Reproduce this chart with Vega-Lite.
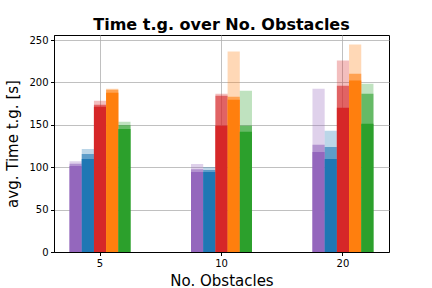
{
  "$schema": "https://vega.github.io/schema/vega-lite/v6.json",
  "autosize": {"type": "none"},
  "width": 335,
  "height": 217,
  "padding": {"left": 54, "top": 35, "right": 43, "bottom": 36},
  "background": "white",
  "title": {"text": "Time t.g. over No. Obstacles", "fontSize": 16, "fontWeight": "bold", "font": "DejaVu Sans", "color": "#000", "offset": 2, "anchor": "middle"},
  "config": {
    "view": {"stroke": "#000", "strokeWidth": 1},
    "axis": {"labelFont": "DejaVu Sans", "titleFont": "DejaVu Sans", "labelFontSize": 10, "titleFontSize": 15, "titleFontWeight": "normal", "labelColor": "#000", "titleColor": "#000", "domainColor": "#000", "tickColor": "#000", "tickSize": 3.5, "labelPadding": 2.5, "gridColor": "#b0b0b0", "gridWidth": 0.8, "zindex": 1}
  },
  "data": {"values": [
    {"obstacles": "5", "method": "M1", "layer": "top", "value": 107},
    {"obstacles": "5", "method": "M1", "layer": "mid", "value": 104},
    {"obstacles": "5", "method": "M1", "layer": "base", "value": 101.5},
    {"obstacles": "5", "method": "M2", "layer": "top", "value": 121.5},
    {"obstacles": "5", "method": "M2", "layer": "mid", "value": 115.7},
    {"obstacles": "5", "method": "M2", "layer": "base", "value": 109.8},
    {"obstacles": "5", "method": "M3", "layer": "top", "value": 178.5},
    {"obstacles": "5", "method": "M3", "layer": "mid", "value": 173.7},
    {"obstacles": "5", "method": "M3", "layer": "base", "value": 171.4},
    {"obstacles": "5", "method": "M4", "layer": "top", "value": 192.7},
    {"obstacles": "5", "method": "M4", "layer": "mid", "value": 191.5},
    {"obstacles": "5", "method": "M4", "layer": "base", "value": 187.9},
    {"obstacles": "5", "method": "M5", "layer": "top", "value": 153.6},
    {"obstacles": "5", "method": "M5", "layer": "mid", "value": 149.6},
    {"obstacles": "5", "method": "M5", "layer": "base", "value": 145},
    {"obstacles": "10", "method": "M1", "layer": "top", "value": 103.9},
    {"obstacles": "10", "method": "M1", "layer": "mid", "value": 97.6},
    {"obstacles": "10", "method": "M1", "layer": "base", "value": 94.4},
    {"obstacles": "10", "method": "M2", "layer": "top", "value": 100.3},
    {"obstacles": "10", "method": "M2", "layer": "mid", "value": 96.8},
    {"obstacles": "10", "method": "M2", "layer": "base", "value": 94.4},
    {"obstacles": "10", "method": "M3", "layer": "top", "value": 186.8},
    {"obstacles": "10", "method": "M3", "layer": "mid", "value": 184.4},
    {"obstacles": "10", "method": "M3", "layer": "base", "value": 148.9},
    {"obstacles": "10", "method": "M4", "layer": "top", "value": 236.5},
    {"obstacles": "10", "method": "M4", "layer": "mid", "value": 183.2},
    {"obstacles": "10", "method": "M4", "layer": "base", "value": 179.7},
    {"obstacles": "10", "method": "M5", "layer": "top", "value": 190.3},
    {"obstacles": "10", "method": "M5", "layer": "mid", "value": 148.9},
    {"obstacles": "10", "method": "M5", "layer": "base", "value": 141.8},
    {"obstacles": "20", "method": "M1", "layer": "top", "value": 192.7},
    {"obstacles": "20", "method": "M1", "layer": "mid", "value": 126.4},
    {"obstacles": "20", "method": "M1", "layer": "base", "value": 118.1},
    {"obstacles": "20", "method": "M2", "layer": "top", "value": 142.9},
    {"obstacles": "20", "method": "M2", "layer": "mid", "value": 124},
    {"obstacles": "20", "method": "M2", "layer": "base", "value": 109.8},
    {"obstacles": "20", "method": "M3", "layer": "top", "value": 225.8},
    {"obstacles": "20", "method": "M3", "layer": "mid", "value": 196.2},
    {"obstacles": "20", "method": "M3", "layer": "base", "value": 170.2},
    {"obstacles": "20", "method": "M4", "layer": "top", "value": 244.8},
    {"obstacles": "20", "method": "M4", "layer": "mid", "value": 210.4},
    {"obstacles": "20", "method": "M4", "layer": "base", "value": 202.2},
    {"obstacles": "20", "method": "M5", "layer": "top", "value": 198.6},
    {"obstacles": "20", "method": "M5", "layer": "mid", "value": 186.8},
    {"obstacles": "20", "method": "M5", "layer": "base", "value": 151.2}
  ]},
  "encoding": {
    "x": {"field": "obstacles", "type": "ordinal", "sort": ["5", "10", "20"], "scale": {"paddingInner": 0.498, "paddingOuter": 0.128}, "axis": {"title": "No. Obstacles", "labelAngle": 0, "grid": true, "titlePadding": 5}},
    "xOffset": {"field": "method", "type": "nominal", "sort": ["M1", "M2", "M3", "M4", "M5"], "scale": {"paddingInner": 0, "paddingOuter": 0}},
    "y": {"field": "value", "type": "quantitative", "stack": null, "scale": {"domain": [0, 256], "nice": false}, "axis": {"title": "avg. Time t.g. [s]", "values": [0, 50, 100, 150, 200, 250], "grid": true, "titlePadding": 8}},
    "color": {"field": "method", "type": "nominal", "scale": {"domain": ["M1", "M2", "M3", "M4", "M5"], "range": ["#9467bd", "#1f77b4", "#d62728", "#ff7f0e", "#2ca02c"]}, "legend": null}
  },
  "layer": [
    {"transform": [{"filter": "datum.layer === 'top'"}], "mark": {"type": "bar", "opacity": 0.3}},
    {"transform": [{"filter": "datum.layer === 'mid'"}], "mark": {"type": "bar", "opacity": 0.6}},
    {"transform": [{"filter": "datum.layer === 'base'"}], "mark": {"type": "bar", "opacity": 1}}
  ]
}
